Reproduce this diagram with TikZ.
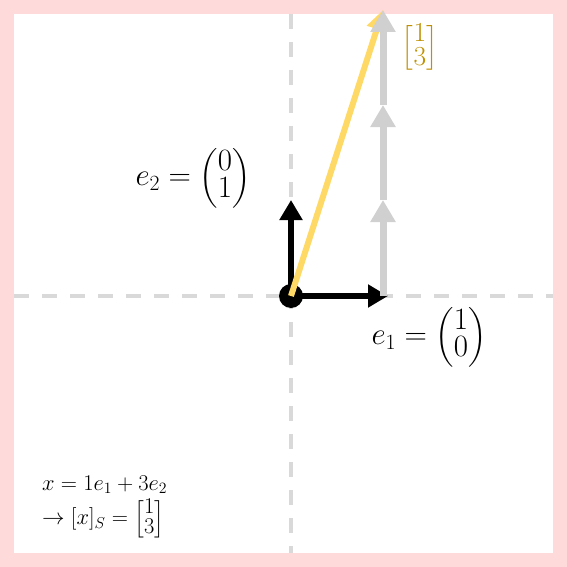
\RequirePackage{fix-cm}
\documentclass[tikz,border=0pt]{standalone}
\usepackage{amsmath}
\usepackage{xcolor}
\usetikzlibrary{arrows.meta,positioning,calc}
\definecolor{framepink}{HTML}{FFDADA}
\definecolor{axisgray}{HTML}{D9D9D9}
\definecolor{stepgray}{HTML}{D0D0D0}
\definecolor{vecyellow}{HTML}{FFD966}
\definecolor{coordgold}{HTML}{BF9000}

\tikzset{
    axis/.style={axisgray,line width=3.5pt,dash pattern=on 15pt off 13pt},
    basisvec/.style={black,line width=6pt,-{Triangle[length=20pt,width=22pt]}},
    stepvec/.style={stepgray,line width=7pt,-{Triangle[length=22pt,width=24pt]}},
    resultvec/.style={vecyellow,line width=6pt,-{Triangle[length=20pt,width=20pt]}},
    biglabel/.style={font=\fontsize{31}{34}\selectfont\renewcommand{\arraystretch}{0.72},inner sep=0pt},
    smalllabel/.style={font=\fontsize{22.5}{25}\selectfont\renewcommand{\arraystretch}{0.72},inner sep=0pt,anchor=west}
}

\begin{document}
\begin{tikzpicture}[x=1pt,y=-1pt]
    % Frame
    \fill[framepink] (0,0) rectangle (567,567);
    \fill[white] (14,14) rectangle (553,553);
    \useasboundingbox (0,0) rectangle (567,567);

    % Points
    \coordinate (O) at (291,296);
    \coordinate (xl) at (14,296);
    \coordinate (xr) at (553,296);
    \coordinate (yt) at (291,14);
    \coordinate (yb) at (291,553);
    \coordinate (e1) at (388,296);
    \coordinate (e2) at (291,200);
    \coordinate (s0) at (383,296);
    \coordinate (s1) at (383,200);
    \coordinate (s2) at (383,105);
    \coordinate (s3) at (383,10);

    % Axes
    \draw[axis] (xl) -- (xr);
    \draw[axis] (yt) -- (yb);

    % Basis vectors
    \draw[basisvec] (O) -- (e1);
    \draw[basisvec] (O) -- (e2);
    \node[circle,fill=black,minimum size=24pt,inner sep=0pt] (dot) at (O) {};

    % Result vector
    \draw[resultvec] (O) -- (s3);

    % Steps along e2
    \foreach \i/\j in {s0/s1, s1/s2, s2/s3} {
        \draw[stepvec] (\i) -- (\j);
    }

    % Labels
    \node[biglabel] (e2lab) at (193,178) {$e_2 = \begin{pmatrix}0\\1\end{pmatrix}$};
    \node[biglabel] (e1lab) at (429,337) {$e_1 = \begin{pmatrix}1\\0\end{pmatrix}$};
    \node[biglabel,text=coordgold,font=\fontsize{27.5}{30}\selectfont\renewcommand{\arraystretch}{0.75}] (xlab) at (420,48) {$\begin{bmatrix}1\\3\end{bmatrix}$};
    \node[smalllabel] (eq1) at (42,485) {$x = 1e_1 + 3e_2$};
    \node[smalllabel] (eq2) at (42,519) {$\rightarrow [x]_S = \begin{bmatrix}1\\3\end{bmatrix}$};
\end{tikzpicture}
\end{document}
